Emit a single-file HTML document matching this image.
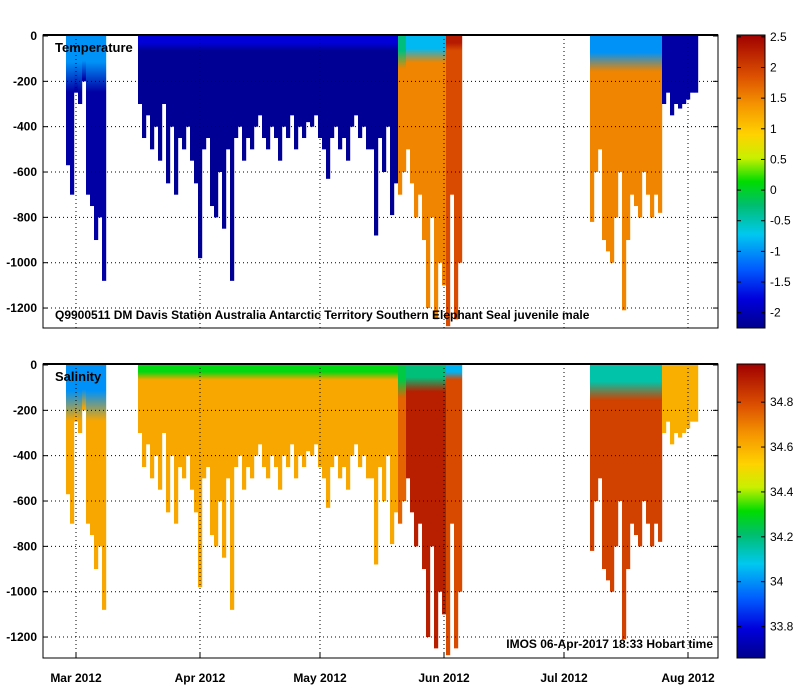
<!DOCTYPE html>
<html><head><meta charset="utf-8"><style>
body{margin:0;background:#fff}
svg{display:block;font-family:"Liberation Sans",sans-serif;font-weight:bold}
</style></head><body>
<svg id="c" width="799" height="700" viewBox="0 0 799 700"></svg>
<script>
// profile data: day offset from 1 Mar 2012, max depth (m)
const days=[-2,-1,0,1,2,3,4,5,6,7,
16,17,18,19,20,21,22,23,24,25,26,27,28,29,30,31,32,33,34,35,36,37,38,39,40,41,42,43,44,45,46,47,48,49,50,51,52,53,54,55,56,57,58,59,60,61,62,63,64,65,66,67,68,69,70,71,72,73,74,75,76,77,78,79,80,
81,82,83,84,85,86,87,88,89,90,91,92,93,94,95,96,
129,130,131,132,133,134,135,136,137,138,139,140,141,142,143,144,145,146,
147,148,149,150,151,152,153,154,155];
const depths=[570,700,250,300,200,700,750,900,800,1080,
300,450,350,500,400,550,300,650,400,700,450,500,400,550,650,980,500,450,750,800,600,850,500,1080,450,400,550,450,500,400,350,450,500,400,450,550,400,450,350,500,400,450,380,400,350,450,500,630,450,400,500,450,550,400,350,450,400,500,500,880,450,600,400,790,650,
700,600,500,650,800,700,900,1200,800,1250,1000,1100,1280,700,1250,1000,
820,600,500,900,950,1000,800,600,1210,900,700,750,800,600,700,800,700,780,
300,250,350,300,320,300,280,250,250];
// per-segment properties
const segStart=[-3,15,81,83,93,128,147];
const segML=[190,50,110,90,50,120,80];
const tempSurf=[-1.0,-1.8,-0.3,-0.8,2.3,-1.0,-2.1];
const tempDeep=[-2.1,-2.2,1.5,1.5,1.9,1.5,-2.1];
const salSurf=[34.0,34.3,34.25,34.2,34.05,34.15,34.6];
const salDeep=[34.62,34.62,34.75,34.9,34.8,34.82,34.6];
const xTicks=[0,31,61,92,122,153];
const xLabels=["Mar 2012","Apr 2012","May 2012","Jun 2012","Jul 2012","Aug 2012"];
const yTicks=[0,-200,-400,-600,-800,-1000,-1200];
const tTicks=[2.5,2,1.5,1,0.5,0,-0.5,-1,-1.5,-2];
const sTicks=[34.8,34.6,34.4,34.2,34,33.8];

const NS="http://www.w3.org/2000/svg",svg=document.getElementById('c');
function el(t,a,p){const e=document.createElementNS(NS,t);for(const k in a)e.setAttribute(k,a[k]);(p||svg).appendChild(e);return e;}
const X0=43,X1=718;
const xs=d=>76+4*d;
const panels=[{top:35,bot:328,y0:36,name:'temperature',label:'Temperature',vmin:-2.25,vmax:2.53,surf:tempSurf,deep:tempDeep,ticks:tTicks},
{top:364,bot:658,y0:365,name:'salinity',label:'Salinity',vmin:33.66,vmax:34.97,surf:salSurf,deep:salDeep,ticks:sTicks}];
const stops=[[0,0,0,140],[0.1,0,0,220],[0.2,0,90,255],[0.32,0,200,240],[0.42,0,190,110],[0.5,0,220,0],[0.58,200,240,0],[0.66,255,210,0],[0.76,245,150,0],[0.86,220,80,0],[1,160,0,0]];
function cmap(f){f=Math.max(0,Math.min(1,f));for(let i=1;i<stops.length;i++){if(f<=stops[i][0]){const a=stops[i-1],b=stops[i],t=(f-a[0])/(b[0]-a[0]);return `rgb(${Math.round(a[1]+t*(b[1]-a[1]))},${Math.round(a[2]+t*(b[2]-a[2]))},${Math.round(a[3]+t*(b[3]-a[3]))})`;}}return 'rgb(160,0,0)';}
const defs=el('defs',{});
const cbg=el('linearGradient',{id:'cb',x1:0,y1:1,x2:0,y2:0},defs);
stops.forEach(s=>el('stop',{offset:s[0],'stop-color':cmap(s[0])},cbg));
function segOf(d){let s=0;for(let i=0;i<segStart.length;i++)if(d>=segStart[i])s=i;return s;}
panels.forEach((P,pi)=>{
  const ys=m=>P.y0+m*0.2267;
  const g=el('g',{});
  el('rect',{x:X0,y:P.top,width:X1-X0,height:P.bot-P.top,fill:'#fff'},g);
  days.forEach((d,i)=>{
    const s=segOf(d),gid='g'+pi+'_'+i;
    const lg=el('linearGradient',{id:gid,gradientUnits:'userSpaceOnUse',x1:0,y1:ys(0),x2:0,y2:ys(depths[i])},defs);
    const f1=(P.surf[s]-P.vmin)/(P.vmax-P.vmin),f2=(P.deep[s]-P.vmin)/(P.vmax-P.vmin);
    const ml=Math.min(0.9,segML[s]/depths[i]);
    el('stop',{offset:0,'stop-color':cmap(f1)},lg);
    el('stop',{offset:ml*0.6,'stop-color':cmap(f1)},lg);
    el('stop',{offset:Math.min(0.95,ml*1.3),'stop-color':cmap(f2)},lg);
    el('stop',{offset:1,'stop-color':cmap(f2)},lg);
    const r=el('rect',{x:xs(d)-2,y:ys(0),width:4.2,height:ys(depths[i])-ys(0),fill:`url(#${gid})`},g);
    
    
  });
  xTicks.forEach(d=>el('line',{x1:xs(d),x2:xs(d),y1:P.top,y2:P.bot,stroke:'#000','stroke-dasharray':'1 3','stroke-width':1},g));
  yTicks.forEach(v=>{const y=ys(-v);
    if(v<0)el('line',{x1:X0,x2:X1,y1:y,y2:y,stroke:'#000','stroke-dasharray':'1 3'},g);
    el('line',{x1:X0,x2:X0+5,y1:y,y2:y,stroke:'#000'},g);el('line',{x1:X1-5,x2:X1,y1:y,y2:y,stroke:'#000'},g);
    const t=el('text',{x:37,y:y+4,'text-anchor':'end','font-size':12},g);t.textContent=v;
    });
  el('rect',{x:X0,y:P.top,width:X1-X0,height:P.bot-P.top,fill:'none',stroke:'#000','stroke-width':1},g);
  el('line',{x1:X0,x2:X1,y1:P.top,y2:P.top,stroke:'#000','stroke-width':2},g);
  const lt=el('text',{x:55,y:P.top+17,'font-size':13},g);lt.textContent=P.label;
  
  const cb=el('g',{});
  el('rect',{x:737,y:P.top,width:28,height:P.bot-P.top,fill:'url(#cb)',stroke:'#000'},cb);
  P.ticks.forEach(v=>{const y=P.bot-(v-P.vmin)/(P.vmax-P.vmin)*(P.bot-P.top);
    el('line',{x1:737,x2:741,y1:y,y2:y,stroke:'#000'},cb);el('line',{x1:761,x2:765,y1:y,y2:y,stroke:'#000'},cb);
    const t=el('text',{x:770,y:y+4,'font-size':12,'font-weight':'normal'},cb);t.textContent=v;
    });
});
xTicks.forEach((d,i)=>{el('line',{x1:xs(d),x2:xs(d),y1:652,y2:658,stroke:'#000'});
  const t=el('text',{x:xs(d),y:682,'text-anchor':'middle','font-size':12});t.textContent=xLabels[i];
  });
const n1=el('text',{x:55,y:319,'font-size':12});n1.textContent='Q9900511 DM Davis Station Australia Antarctic Territory Southern Elephant Seal juvenile male';

const n2=el('text',{x:713,y:648,'font-size':12,'text-anchor':'end'});n2.textContent='IMOS 06-Apr-2017 18:33 Hobart time';

</script>
</body></html>
